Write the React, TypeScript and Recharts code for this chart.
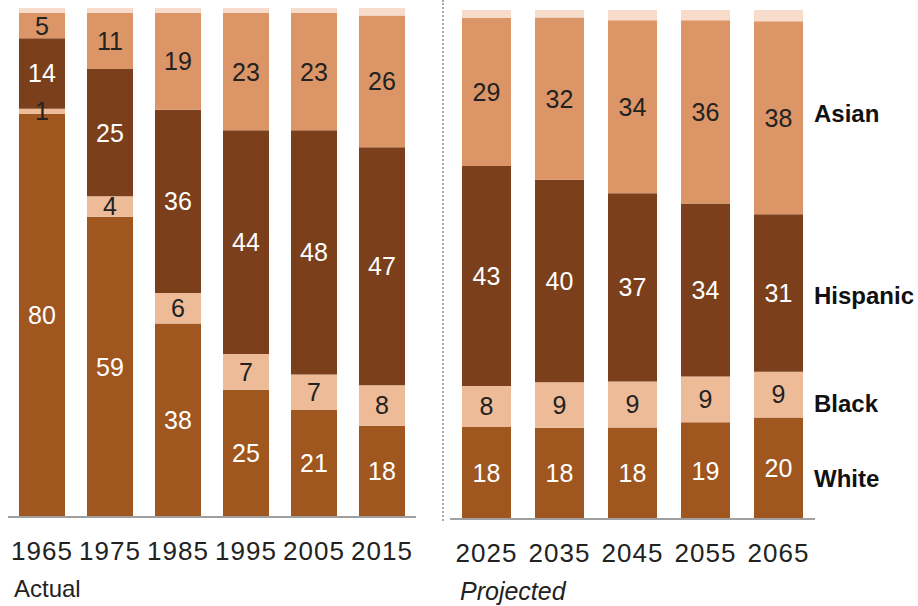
import { Bar, BarChart, LabelList, XAxis, YAxis } from 'recharts';

const actualYears = ['1965', '1975', '1985', '1995', '2005', '2015'];
const actualWhite = [80, 59, 38, 25, 21, 18];
const actualBlack = [1, 4, 6, 7, 7, 8];
const actualHispanic = [14, 25, 36, 44, 48, 47];
const actualAsian = [5, 11, 19, 23, 23, 26];
const actualOther = [1, 1, 1, 1, 1, 1.5];

const projectedYears = ['2025', '2035', '2045', '2055', '2065'];
const projectedWhite = [18, 18, 18, 19, 20];
const projectedBlack = [8, 9, 9, 9, 9];
const projectedHispanic = [43, 40, 37, 34, 31];
const projectedAsian = [29, 32, 34, 36, 38];
const projectedOther = [1.5, 1.5, 2, 2, 2.2];

// nameDy: the side names are nudged off their segment centre as in the original
const SERIES = [
  { key: 'white', name: 'White', color: '#a0561f', text: '#ffffff', nameDy: 10 },
  { key: 'black', name: 'Black', color: '#edbb98', text: '#222222', nameDy: 9 },
  { key: 'hispanic', name: 'Hispanic', color: '#7b3f1b', text: '#ffffff', nameDy: 3 },
  { key: 'asian', name: 'Asian', color: '#dc9566', text: '#222222', nameDy: -4 },
];
const OTHER_COLOR = '#f7dccb';
const FONT = '"Liberation Sans", Arial, sans-serif';

function buildRows(
  years: string[],
  white: number[],
  black: number[],
  hispanic: number[],
  asian: number[],
  other: number[],
) {
  return years.map((year, i) => ({
    year,
    white: white[i],
    black: black[i],
    hispanic: hispanic[i],
    asian: asian[i],
    other: other[i],
  }));
}

const actualRows = buildRows(actualYears, actualWhite, actualBlack, actualHispanic, actualAsian, actualOther);
const projectedRows = buildRows(
  projectedYears,
  projectedWhite,
  projectedBlack,
  projectedHispanic,
  projectedAsian,
  projectedOther,
);

function YearTick(props: any) {
  const { x, y, payload } = props;
  return (
    <text
      x={x}
      y={y + 43}
      textAnchor="middle"
      fontFamily={FONT}
      fontSize={26}
      letterSpacing={1}
      fill="#222"
    >
      {payload.value}
    </text>
  );
}

/** Series name written beside the last bar, centred on its segment. */
function sideLabel(name: string, lastIndex: number, dy: number) {
  return (props: any) => {
    const { x, y, width, height, index } = props;
    if (index !== lastIndex) return null;
    return (
      <text
        x={Number(x) + Number(width) + 11}
        y={Number(y) + Number(height) / 2 + dy}
        dominantBaseline="central"
        fontFamily={FONT}
        fontSize={24}
        fontWeight="bold"
        fill="#111"
      >
        {name}
      </text>
    );
  };
}

function StackChart(props: {
  rows: Record<string, number | string>[];
  barSize: number;
  axisHeight: number;
  margin: { top: number; right: number; bottom: number; left: number };
  withNames?: boolean;
}) {
  const { rows, barSize, axisHeight, margin, withNames } = props;
  return (
    <BarChart width={918} height={606} data={rows} margin={margin} stackOffset="expand">
      <XAxis
        dataKey="year"
        tickLine={false}
        tickSize={0}
        tickMargin={0}
        axisLine={{ stroke: '#a0a0a0', strokeWidth: 2 }}
        tick={<YearTick />}
        height={axisHeight}
        interval={0}
      />
      <YAxis hide domain={[0, 1]} />
      {SERIES.map((s) => (
        <Bar key={s.key} dataKey={s.key} stackId="a" fill={s.color} barSize={barSize} isAnimationActive={false}>
          <LabelList
            dataKey={s.key}
            position="center"
            fill={s.text}
            fontFamily={FONT}
            fontSize={25}
          />
          {withNames && (
            <LabelList dataKey={s.key} content={sideLabel(s.name, rows.length - 1, s.nameDy)} />
          )}
        </Bar>
      ))}
      <Bar dataKey="other" stackId="a" fill={OTHER_COLOR} barSize={barSize} isAnimationActive={false} />
    </BarChart>
  );
}

export default function App() {
  return (
    <div style={{ position: 'absolute', left: 0, top: 0, width: 918, height: 606, background: '#fff' }}>
      <div style={{ position: 'absolute', left: 0, top: 0 }}>
        <StackChart
          rows={actualRows}
          barSize={46}
          axisHeight={89}
          margin={{ top: 8, right: 502, bottom: 0, left: 8 }}
        />
      </div>
      <div style={{ position: 'absolute', left: 0, top: 0 }}>
        <StackChart
          rows={projectedRows}
          barSize={49}
          axisHeight={87}
          margin={{ top: 10, right: 103, bottom: 0, left: 450 }}
          withNames
        />
      </div>
      <div
        style={{
          position: 'absolute',
          left: 442,
          top: 0,
          height: 521,
          borderLeft: '2px dotted #aaaaaa',
        }}
      />
      <div
        style={{
          position: 'absolute',
          left: 14,
          top: 575,
          fontFamily: FONT,
          fontSize: 24,
          color: '#222',
          lineHeight: '28px',
        }}
      >
        Actual
      </div>
      <div
        style={{
          position: 'absolute',
          left: 460,
          top: 577,
          fontFamily: FONT,
          fontSize: 25,
          fontStyle: 'italic',
          color: '#222',
          lineHeight: '28px',
        }}
      >
        Projected
      </div>
    </div>
  );
}
